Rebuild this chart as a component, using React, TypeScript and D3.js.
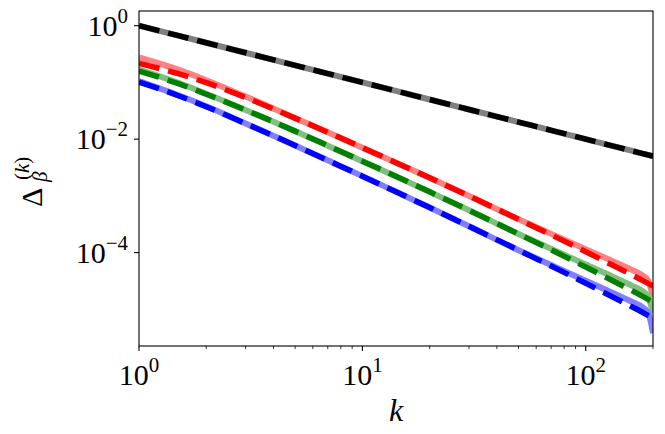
import * as d3 from "d3";

const kValues = [1, 1.5, 2, 3, 5, 7, 10, 15, 20, 30, 50, 70, 100, 130, 160, 180, 190, 200];

// reference curve ~ 1/k
const blackSeries = [1, 0.667, 0.5, 0.333, 0.2, 0.143, 0.1, 0.0667, 0.05, 0.0333, 0.02, 0.0143, 0.01, 0.0077, 0.00625, 0.00556, 0.00526, 0.005];

// dashed curves
const redDashed = [0.21544, 0.14236, 0.09879, 0.054174, 0.023462, 0.01318, 0.0070809, 0.0034644, 0.0020772, 9.9595e-4, 3.8667e-4, 2.052e-4, 1.033e-4, 6.168e-5, 4.076e-5, 3.208e-5, 2.863e-5, 2.566e-5];
const greenDashed = [0.15887, 0.094857, 0.061933, 0.032603, 0.013837, 7.6801e-3, 4.0923e-3, 1.9866e-3, 1.1765e-3, 5.5734e-4, 2.1285e-4, 1.1159e-4, 5.5509e-5, 3.2868e-5, 2.1544e-5, 1.6888e-5, 1.5006e-5, 1.3396e-5];
const blueDashed = [0.10164, 0.058279, 0.037276, 0.018844, 7.7426e-3, 4.2276e-3, 2.226e-3, 1.0585e-3, 6.2185e-4, 2.9096e-4, 1.1023e-4, 5.7808e-5, 2.8744e-5, 1.7025e-5, 1.1204e-5, 8.781e-6, 7.805e-6, 6.997e-6];

// solid curves, drawn light underneath the dashed ones
const redSolid = [0.27487, 0.16752, 0.10934, 0.056406, 0.023462, 0.01318, 0.0070809, 0.0034644, 0.0020772, 9.9595e-4, 3.8667e-4, 2.1372e-4, 1.1434e-4, 7.2555e-5, 4.9937e-5, 3.9293e-5, 3.2339e-5, 1.6415e-5];
const greenSolid = [0.16888, 0.09879, 0.063199, 0.032603, 0.013837, 7.6801e-3, 4.0923e-3, 1.9866e-3, 1.1765e-3, 5.5734e-4, 2.1285e-4, 1.1622e-4, 6.1431e-5, 3.8667e-5, 2.6401e-5, 2.0688e-5, 1.6957e-5, 8.568e-6];
const blueSolid = [0.10585, 0.059474, 0.038041, 0.018844, 7.7426e-3, 4.2276e-3, 2.226e-3, 1.0585e-3, 6.2185e-4, 2.9096e-4, 1.1023e-4, 6.0197e-5, 3.1818e-5, 2.0026e-5, 1.3727e-5, 1.0758e-5, 8.817e-6, 3.804e-6];

const xMajor = [1, 10, 100];
const xMinor = [2, 3, 4, 5, 6, 7, 8, 9, 20, 30, 40, 50, 60, 70, 80, 90, 200];
const yMajor = [0, -2, -4];

const W = 665;
const H = 434;
const plot = { left: 139, right: 653, top: 11, bottom: 346 };
const font = "'Liberation Serif', 'DejaVu Serif', serif";

const x = d3.scaleLog().domain([1, 200]).range([plot.left, plot.right]);
const y = d3
  .scaleLog()
  .domain([Math.pow(10, -5.647), Math.pow(10, 0.259)])
  .range([plot.bottom, plot.top]);

const line = d3
  .line<number>()
  .x((_, i) => x(kValues[i]))
  .y((d) => y(d))
  .curve(d3.curveMonotoneX);

const layers = [
  { data: blackSeries, color: "#808080", dash: null },
  { data: blackSeries, color: "#000000", dash: "21 9" },
  { data: redSolid, color: "#ff8080", dash: null },
  { data: redDashed, color: "#ff0000", dash: "21 9" },
  { data: greenSolid, color: "#80bf80", dash: null },
  { data: greenDashed, color: "#008000", dash: "21 9" },
  { data: blueSolid, color: "#8080ff", dash: null },
  { data: blueDashed, color: "#0000ff", dash: "21 9" },
];

export default function App() {
  return (
    <svg
      width={W}
      height={H}
      style={{ position: "absolute", left: 0, top: 0, background: "#fff" }}
      fontFamily={font}
    >
      <defs>
        <clipPath id="plot-clip">
          <rect x={plot.left} y={plot.top} width={plot.right - plot.left} height={plot.bottom - plot.top} />
        </clipPath>
      </defs>

      <g clipPath="url(#plot-clip)">
        {layers.map((l, i) => (
          <path
            key={i}
            d={line(l.data) ?? ""}
            fill="none"
            stroke={l.color}
            strokeWidth={l.dash ? 5.5 : 6}
            strokeDasharray={l.dash ?? undefined}
          />
        ))}
      </g>

      {/* frame */}
      <rect
        x={plot.left}
        y={plot.top}
        width={plot.right - plot.left}
        height={plot.bottom - plot.top}
        fill="none"
        stroke="#000"
        strokeWidth={1.1}
      />

      {/* x ticks */}
      {xMajor.map((v) => (
        <g key={"xm" + v}>
          <line x1={x(v)} x2={x(v)} y1={plot.bottom} y2={plot.bottom + 5} stroke="#000" strokeWidth={1.1} />
          <text x={x(v)} y={385} textAnchor="middle" fontSize={30}>
            10
            <tspan dy={-13} fontSize={21}>
              {Math.round(Math.log10(v))}
            </tspan>
          </text>
        </g>
      ))}
      {xMinor.map((v) => (
        <line key={"xn" + v} x1={x(v)} x2={x(v)} y1={plot.bottom} y2={plot.bottom + 3} stroke="#000" strokeWidth={0.8} />
      ))}

      {/* y ticks */}
      {yMajor.map((p) => {
        const yy = y(Math.pow(10, p));
        return (
          <g key={"y" + p}>
            <line x1={plot.left - 5} x2={plot.left} y1={yy} y2={yy} stroke="#000" strokeWidth={1.1} />
            <text x={128} y={yy + 10} textAnchor="end" fontSize={30}>
              10
              <tspan dy={-13} fontSize={21}>
                {p === 0 ? "0" : "\u2212" + Math.abs(p)}
              </tspan>
            </text>
          </g>
        );
      })}

      {/* axis labels */}
      <text x={(plot.left + plot.right) / 2} y={421} textAnchor="middle" fontSize={32} fontStyle="italic">
        k
      </text>
      <g transform="translate(42,207) rotate(-90)">
        <text x={0} y={0} fontSize={30}>
          Δ
        </text>
        <text x={25} y={5} fontSize={21} fontStyle="italic">
          β
        </text>
        <text x={27} y={-13} fontSize={21}>
          (<tspan fontStyle="italic">k</tspan>)
        </text>
      </g>
    </svg>
  );
}
